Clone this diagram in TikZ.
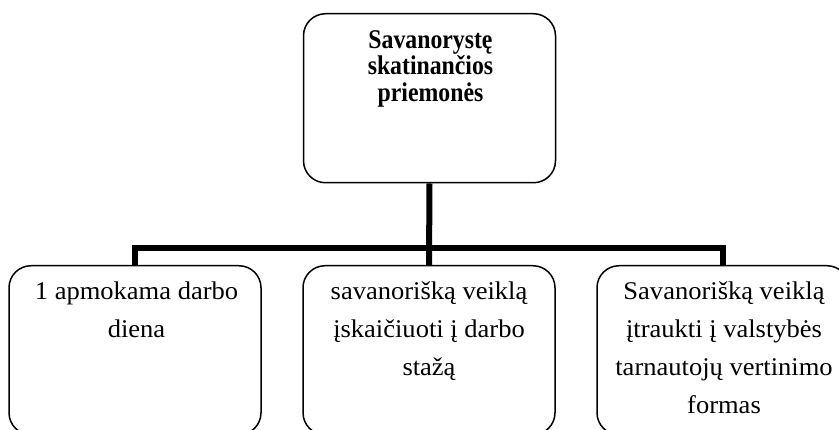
\documentclass[tikz,border=0pt]{standalone}
\usepackage{fontspec}
\setmainfont[FakeStretch=1.04]{Liberation Serif}
\newfontfamily\headfont[FakeStretch=0.88]{Liberation Serif}
\begin{document}
\begin{tikzpicture}[x=1pt,y=1pt,
  box/.style={draw=black, line width=1.5pt, rounded corners=22pt,
    minimum width=252pt, inner sep=0pt},
  conn/.style={draw=black, line width=6pt, line join=miter},
  headtext/.style={align=center, inner sep=0pt, anchor=base,
    font=\headfont\fontsize{27}{26.7}\selectfont\bfseries},
  leaftext/.style={align=center, inner sep=0pt, anchor=base,
    font=\fontsize{25.5}{37.7}\selectfont}]
\clip (0,0) rectangle (839,430);
\useasboundingbox (0,0) rectangle (839,430);

% head box and its caption (base anchor = baseline of the last line)
\node[box, minimum height=169pt, anchor=north] (top) at (429.5,417) {};
\node[headtext] (toptext) at (430.5,328.3) {Savanorystę\\skatinančios\\priemonės};

% three leaf boxes
\node[box, minimum height=169pt, anchor=north] (b1) at (135,165) {};
\node[box, minimum height=169pt, anchor=north] (b2) at (429,165) {};
\node[box, minimum height=169pt, anchor=north] (b3) at (723,165) {};

\node[leaftext] (t1) at (136.5,92.3) {1 apmokama darbo\\diena};
\node[leaftext] (t2) at (429,54.6) {savanorišką veiklą\\įskaičiuoti į darbo\\stažą};
\node[leaftext] (t3) at (724,16.9) {Savanorišką veiklą\\įtraukti į valstybės\\tarnautojų vertinimo\\formas};

% connectors
\coordinate (bar) at (0,181.5);
\draw[conn] (top.south) -- (b2.north);
\draw[conn] (b1.north) -- (b1.north |- bar) -- (b3.north |- bar) -- (b3.north);
\end{tikzpicture}
\end{document}
